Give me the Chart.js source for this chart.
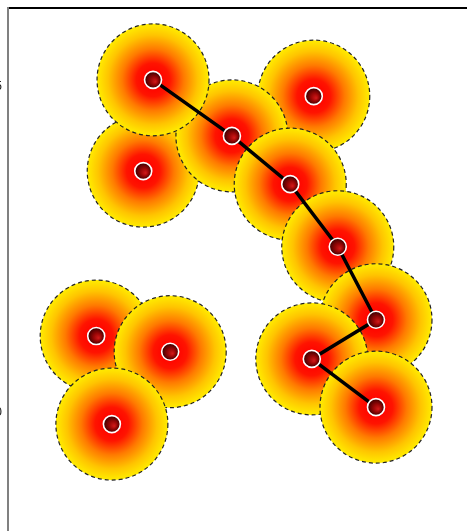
<!DOCTYPE html>
<html>
<head>
<meta charset="utf-8">
<script src="https://cdn.jsdelivr.net/npm/chart.js@4/dist/chart.umd.min.js"></script>
<style>
  html, body { margin: 0; padding: 0; background: #fff; overflow: hidden; width: 467px; height: 531px; }
  #wrap { position: absolute; left: -22px; top: 0; }
</style>
</head>
<body>
<div id="wrap"><canvas id="c" width="520" height="600"></canvas></div>
<script>
// Node coordinates (data units), listed in drawing order
const nodeX = [2.76, 6.24, 1.80, 3.31, 2.12, 4.57, 2.96, 5.76, 6.73, 7.51, 6.20, 7.51];
const nodeY = [3.71, 4.86, 1.18, 0.94, -0.17, 4.25, 5.11, 3.51, 2.55, 1.43, 0.83, 0.09];
// Indices of nodes connected by the path, in path order
const pathOrder = [6, 5, 7, 8, 9, 10, 11];
// Y tick values
const yTickValues = [0, 5];

const nodes = nodeX.map((x, i) => ({ x: x, y: nodeY[i] }));
const pathPts = pathOrder.map(i => ({ x: nodeX[i], y: nodeY[i] }));

const BUBBLE_R = 56;

function pixelOf(ctx) {
  const chart = ctx.chart;
  const raw = ctx.raw;
  if (!chart.chartArea || !raw || !chart.scales.x) return null;
  return { x: chart.scales.x.getPixelForValue(raw.x), y: chart.scales.y.getPixelForValue(raw.y) };
}

function bubbleFill(ctx) {
  const p = pixelOf(ctx);
  if (!p) return '#ff9900';
  const g = ctx.chart.ctx.createRadialGradient(p.x, p.y, 0, p.x, p.y, BUBBLE_R);
  g.addColorStop(0, '#d00000');
  g.addColorStop(0.1, '#ff0000');
  g.addColorStop(0.3, '#ff1400');
  g.addColorStop(0.55, '#ff7a00');
  g.addColorStop(0.8, '#ffc400');
  g.addColorStop(1, '#ffec00');
  return g;
}

function dotFill(ctx) {
  const p = pixelOf(ctx);
  if (!p) return '#800000';
  const g = ctx.chart.ctx.createRadialGradient(p.x + 2.5, p.y + 2, 0, p.x, p.y, 8.5);
  g.addColorStop(0, '#d41a1a');
  g.addColorStop(0.45, '#9a0606');
  g.addColorStop(1, '#380000');
  return g;
}

const dashPlugin = {
  id: 'dash',
  beforeDatasetDraw(chart, args) {
    if (args.index === 2) { chart.ctx.save(); chart.ctx.setLineDash([4, 3]); }
  },
  afterDatasetDraw(chart, args) {
    if (args.index === 2) { chart.ctx.restore(); }
  }
};

new Chart(document.getElementById('c'), {
  type: 'bubble',
  data: {
    datasets: [
      {
        type: 'scatter',
        data: nodes,
        order: 0,
        pointRadius: 8.5,
        pointHoverRadius: 8.5,
        pointBorderWidth: 1.6,
        pointBorderColor: '#ffffff',
        pointBackgroundColor: dotFill
      },
      {
        type: 'line',
        data: pathPts,
        order: 1,
        borderColor: '#000000',
        borderWidth: 3.5,
        pointRadius: 0,
        fill: false,
        tension: 0
      },
      {
        type: 'bubble',
        data: nodes,
        order: 2,
        radius: BUBBLE_R,
        hoverRadius: 0,
        borderWidth: 1.2,
        borderColor: '#222222',
        backgroundColor: bubbleFill
      }
    ]
  },
  options: {
    responsive: false,
    animation: false,
    events: [],
    layout: { padding: 0, autoPadding: false },
    plugins: { legend: { display: false }, tooltip: { enabled: false } },
    scales: {
      x: {
        type: 'linear',
        position: 'top',
        min: 0,
        max: 10,
        grid: { display: false, drawTicks: false },
        ticks: { display: false },
        border: { color: '#000000', width: 2 },
        afterFit(s) { s.height = 8; s.paddingLeft = 0; s.paddingRight = 0; s.paddingTop = 0; s.paddingBottom = 0; }
      },
      y: {
        type: 'linear',
        position: 'left',
        min: -2.868,
        max: 6.2117,
        grid: { display: false, drawTicks: false },
        border: { color: '#808080', width: 2 },
        ticks: { color: '#111', padding: 6, font: { size: 12 } },
        afterBuildTicks(s) { s.ticks = yTickValues.map(v => ({ value: v })); },
        afterFit(s) { s.width = 30; s.paddingTop = 0; s.paddingBottom = 0; s.paddingLeft = 0; s.paddingRight = 0; }
      }
    }
  },
  plugins: [dashPlugin]
});
</script>
</body>
</html>
